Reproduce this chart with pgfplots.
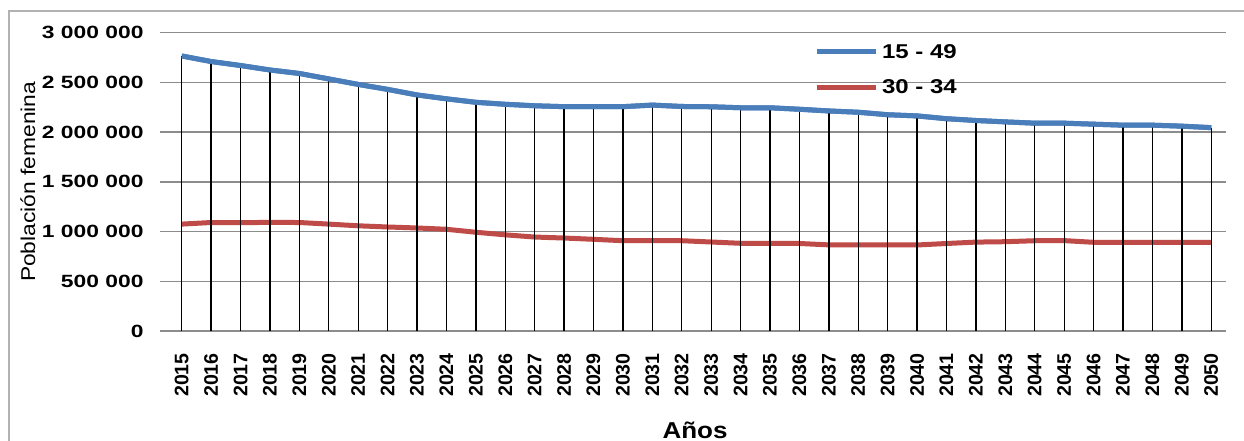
\documentclass[border=0pt]{standalone}
\usepackage{fontspec}
\setmainfont{Liberation Sans}
\usepackage{graphicx}
\usepackage{pgfplots}
\usepackage{pgfplotstable}
\pgfplotsset{compat=1.18}
\definecolor{serA}{HTML}{4A7EBB}
\definecolor{serB}{HTML}{BE4B48}
\newcommand\ylab[1]{\scalebox{1.29}[1]{\fontsize{17.7}{20}\selectfont\bfseries #1}}
\newcommand\lgd[1]{\scalebox{1.2}[1]{\fontsize{20}{24}\selectfont\bfseries #1}}

\pgfplotstableread{
year a b
2015 2766000 1075000
2016 2710000 1091000
2017 2670000 1090000
2018 2625000 1092000
2019 2590000 1091000
2020 2535000 1075000
2021 2480000 1058000
2022 2430000 1046000
2023 2374000 1036000
2024 2335000 1023000
2025 2300000 993000
2026 2280000 967000
2027 2265000 945000
2028 2256000 935000
2029 2256000 922000
2030 2256000 908000
2031 2272000 908000
2032 2258000 908000
2033 2255000 895000
2034 2245000 882000
2035 2245000 882000
2036 2230000 880000
2037 2213000 866000
2038 2200000 865000
2039 2175000 865000
2040 2163000 865000
2041 2135000 880000
2042 2117000 894000
2043 2103000 898000
2044 2090000 908000
2045 2090000 909000
2046 2080000 892000
2047 2070000 892000
2048 2070000 892000
2049 2060000 892000
2050 2045000 892000
}\datatable

\begin{document}
\begin{tikzpicture}[x=1pt,y=1pt]
\useasboundingbox (0,0) rectangle (1244,441);
\draw[black!30, line width=1.5pt] (9,0) -- (9,430) -- (1244,430);
\begin{axis}[
  at={(167pt,110pt)}, anchor=south west,
  scale only axis, width=1059pt, height=298.3pt,
  xmin=2014.5, xmax=2050.5, ymin=0, ymax=3000000,
  axis line style={draw=none},
  xtick={2015,...,2050},
  xtick style={draw=none},
  ytick={0,500000,1000000,1500000,2000000,2500000,3000000},
  yticklabels={\ylab{0},\ylab{500 000},\ylab{1 000 000},\ylab{1 500 000},\ylab{2 000 000},\ylab{2 500 000},\ylab{3 000 000}},
  scaled y ticks=false,
  ytick pos=left, tick align=outside, major tick length=7pt,
  y tick style={color=black!45, line width=1.5pt},
  ymajorgrids, grid style={color=black!45, line width=1.5pt},
  /pgf/number format/assume math mode=true,
  xticklabel={\fontsize{19.6}{22}\selectfont\bfseries\pgfmathprintnumber[1000 sep={}]{\tick}},
  x tick label style={rotate=90, anchor=east, inner xsep=15pt},
  yticklabel shift=13pt,
  xlabel={\scalebox{1.13}[1]{\fontsize{23}{26}\selectfont\bfseries Años}},
  xlabel style={at={(axis description cs:0.4986,-0.332)}, anchor=center},
  ylabel={\scalebox{1.14}[1]{\fontsize{20}{24}\selectfont Población femenina}},
  ylabel style={at={(axis description cs:-0.1313,0.5)}, anchor=center},
  legend cell align=left,
  legend style={at={(axis description cs:0.608,0.976)}, anchor=north west, draw=none, fill=none, row sep=16pt, column sep=2pt},
  legend image code/.code={\draw[#1, line width=5pt] (0pt,0pt) -- (59pt,0pt);},
]
\addplot[serA, line width=5pt, line join=round] table[x=year,y=a]{\datatable};
\addlegendentry{\lgd{15 - 49}}
\addplot[serB, line width=5pt, line join=round] table[x=year,y=b]{\datatable};
\addlegendentry{\lgd{30 - 34}}
\addplot[ycomb, black, line width=1.4pt, forget plot] table[x=year,y=a]{\datatable};
\addplot[serA, line width=5pt, line join=round, forget plot] table[x=year,y=a]{\datatable};
\end{axis}
\end{tikzpicture}
\end{document}
